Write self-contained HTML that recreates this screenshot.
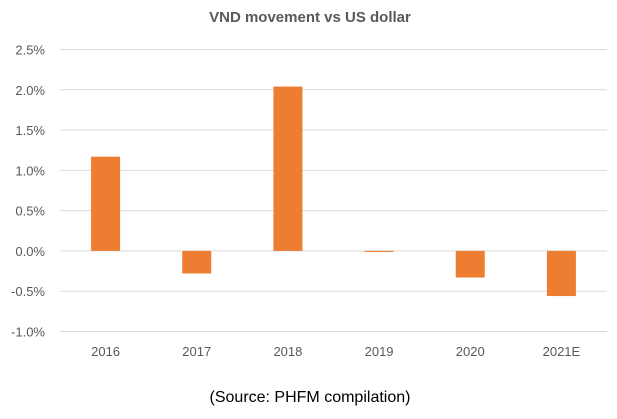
<!DOCTYPE html>
<html><head><meta charset="utf-8"><style>
body{margin:0;background:#fff;font-family:"Liberation Sans",Arial,sans-serif;}
svg text{font-family:"Liberation Sans",Arial,sans-serif;}
</style></head><body>
<svg id="chart" width="617" height="414" viewBox="0 0 617 414" xmlns="http://www.w3.org/2000/svg">
<rect width="617" height="414" fill="#fff"/>
<text x="310" y="22" text-anchor="middle" font-size="15" font-weight="bold" fill="#595959">VND movement vs US dollar</text>
<g id="grid"></g><g id="bars"></g><g id="ylabels"></g><g id="xlabels"></g>
<text x="310" y="402" text-anchor="middle" font-size="16" fill="#000">(Source: PHFM compilation)</text>
</svg>
<script>
const categories=["2016","2017","2018","2019","2020","2021E"];
const values=[1.17,-0.28,2.04,-0.01,-0.33,-0.56];
const yTicks=[2.5,2.0,1.5,1.0,0.5,0.0,-0.5,-1.0];
const yTickLabels=["2.5%","2.0%","1.5%","1.0%","0.5%","0.0%","-0.5%","-1.0%"];
const NS="http://www.w3.org/2000/svg";
const x0=60,x1=607,yTop=49.5,yBot=331.5,vMax=2.5,vMin=-1.0;
function y(v){return yTop+(vMax-v)/(vMax-vMin)*(yBot-yTop);}
const band=(x1-x0)/categories.length;
function xc(i){return x0+band*(i+0.5);}
function mk(t,a,p){const e=document.createElementNS(NS,t);for(const k in a)e.setAttribute(k,a[k]);p.appendChild(e);return e;}
const g=document.getElementById('grid'),yl=document.getElementById('ylabels');
yTicks.forEach((v,i)=>{
 const l=mk('line',{x1:x0,x2:x1,y1:y(v),y2:y(v),stroke:'#d9d9d9','stroke-width':1},g);
 
 
 const t=mk('text',{x:45,y:y(v)+5,'text-anchor':'end','font-size':13,fill:'#595959'},yl);
 t.textContent=yTickLabels[i];
 
 
});
const b=document.getElementById('bars'),xl=document.getElementById('xlabels');
const bw=29;
categories.forEach((c,i)=>{
 const v=values[i];const top=y(Math.max(v,0)),bot=y(Math.min(v,0));
 const r=mk('rect',{x:xc(i)-bw/2,y:top,width:bw,height:Math.max(bot-top,1),fill:'#ed7d31'},b);
 
 
 const t=mk('text',{x:xc(i),y:356,'text-anchor':'middle','font-size':13,fill:'#595959'},xl);
 t.textContent=c;
 
 
});
</script>
</body></html>
